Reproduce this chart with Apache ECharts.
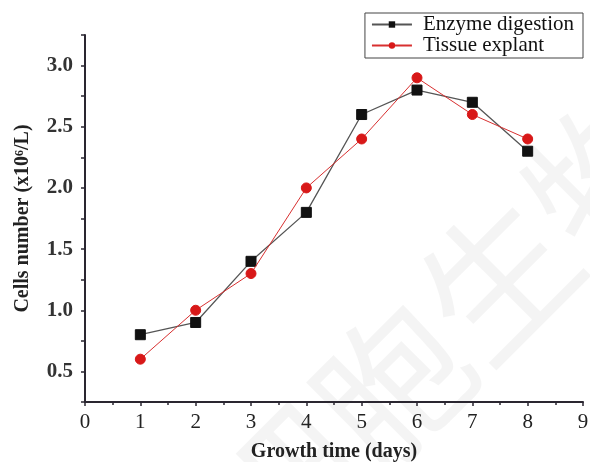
<!DOCTYPE html>
<html>
<head>
<meta charset="utf-8">
<script src="https://cdn.jsdelivr.net/npm/echarts@6/dist/echarts.min.js"></script>
<style>
  html, body { margin: 0; padding: 0; background: #fff; }
  #chart { width: 590px; height: 462px; }
</style>
</head>
<body>
<div id="chart"></div>
<script>
// growth time (days)
const days = [1, 2, 3, 4, 5, 6, 7, 8];
// cells number (x10^6/L)
const enzymeDigestion = [0.8, 0.9, 1.4, 1.8, 2.6, 2.8, 2.7, 2.3];
const tissueExplant = [0.6, 1.0, 1.3, 2.0, 2.4, 2.9, 2.6, 2.4];
const seriesNames = ["Enzyme digestion", "Tissue explant"];

const chart = echarts.init(document.getElementById("chart"));
const serif = "Liberation Serif";
const axisColor = "#2a2630";

const option = {
  animation: false,
  backgroundColor: "#fff",
  // 水印
  graphic: [
    {
      type: "text",
      x: 180,
      y: 490,
      rotation: Math.PI / 4,
      style: {
        text: "细胞生物",
        font: "150px 'Noto Sans CJK SC'",
        fill: "rgba(0,0,0,0.045)",
        verticalAlign: "top",
        align: "left",
      },
      z: -1,
      silent: true,
    },
  ],
  grid: { left: 85, right: 7, top: 35, bottom: 60, outerBoundsMode: "none" },
  legend: {
    right: 7,
    top: 13,
    orient: "vertical",
    itemGap: 0,
    itemWidth: 40,
    itemHeight: 8,
    padding: [1, 9, 2, 6],
    borderColor: "#444",
    borderWidth: 1,
    textStyle: { fontFamily: serif, fontSize: 21, lineHeight: 21, color: "#111", padding: [0, 0, 0, 6] },
    data: seriesNames,
  },
  xAxis: {
    type: "value",
    min: 0,
    max: 9,
    interval: 1,
    name: "Growth time (days)",
    nameLocation: "middle",
    nameGap: 40,
    nameTextStyle: { fontFamily: serif, fontSize: 20, fontWeight: "bold", color: "#222" },
    axisLine: { show: true, lineStyle: { color: axisColor, width: 2 } },
    axisTick: { show: true, length: 4, lineStyle: { color: axisColor, width: 1.5 } },
    minorTick: { show: true, splitNumber: 2, length: 3, lineStyle: { color: axisColor, width: 1.5 } },
    axisLabel: { fontFamily: serif, fontSize: 21, color: "#222", margin: 10 },
    splitLine: { show: false },
  },
  yAxis: {
    type: "value",
    min: 0.25,
    max: 3.25,
    interval: 0.25,
    name: "Cells number (x10⁶/L)",
    nameLocation: "middle",
    nameGap: 52,
    nameTextStyle: { fontFamily: serif, fontSize: 20, fontWeight: "bold", color: "#222" },
    axisLine: { show: true, lineStyle: { color: axisColor, width: 2 } },
    axisTick: { show: true, length: 4, lineStyle: { color: axisColor, width: 1.5 } },
    axisLabel: {
      fontFamily: serif,
      fontSize: 21,
      fontWeight: "bold",
      color: "#333",
      margin: 12,
      formatter: (v) => {
        const k = Math.round(v * 4);
        return k % 2 === 0 && k > 0 && k <= 12 ? v.toFixed(1) : "";
      },
    },
    splitLine: { show: false },
  },
  series: [
    {
      name: seriesNames[0],
      type: "line",
      data: days.map((d, i) => [d, enzymeDigestion[i]]),
      symbol: "rect",
      symbolSize: 10,
      itemStyle: { color: "#111", borderColor: "#111" },
      lineStyle: { color: "#555", width: 1.3 },
      z: 3,
    },
    {
      name: seriesNames[1],
      type: "line",
      data: days.map((d, i) => [d, tissueExplant[i]]),
      symbol: "circle",
      symbolSize: 10,
      itemStyle: { color: "#d81818", borderColor: "#d81818" },
      lineStyle: { color: "#d83030", width: 1 },
      z: 4,
    },
  ],
};

chart.setOption(option);
</script>
</body>
</html>
